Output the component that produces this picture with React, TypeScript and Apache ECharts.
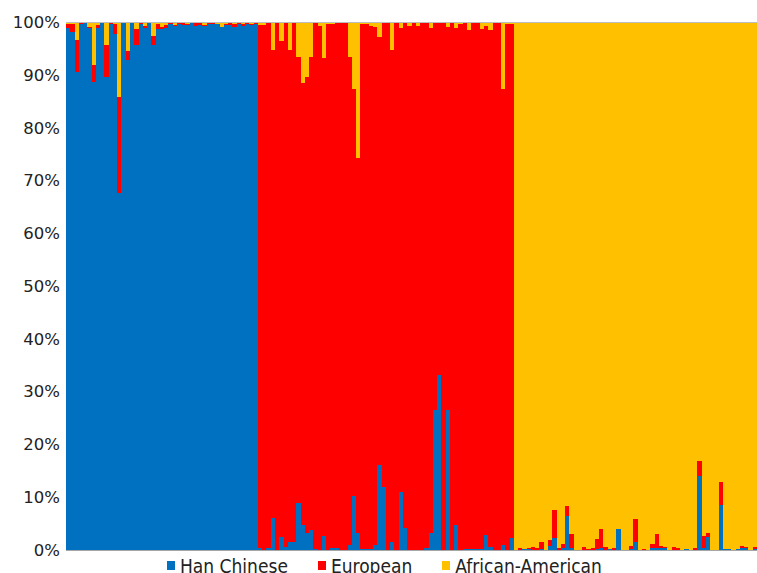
import React, { useEffect, useRef } from "react";
import * as echarts from "echarts";

// Ancestry proportions (%) per individual, grouped by sampled population.
// Han Chinese individuals (45)
const hanGroupHan = [98.9, 98.2, 90.7, 99.8, 99.9, 99.0, 88.7, 99.0, 100, 89.6, 99.7, 97.9, 67.6, 99.9, 92.8, 100, 95.8, 99.8, 99.0, 100, 95.8, 98.7, 98.7, 99.0, 99.7, 99.4, 99.8, 99.5, 99.6, 99.9, 99.4, 99.6, 99.3, 99.8, 99.7, 99.7, 99.1, 99.5, 99.6, 99.1, 99.7, 99.4, 99.8, 99.6, 99.7];
const hanGroupEuropean = [0.8, 1.5, 5.9, 0.2, 0, 0.2, 3.3, 0.6, 0, 6.2, 0.3, 1.8, 18.2, 0.1, 1.8, 0, 2.9, 0.2, 0.4, 0, 1.7, 1.0, 0.5, 0.5, 0.2, 0.1, 0.2, 0.4, 0.1, 0.1, 0.5, 0.3, 0.3, 0.1, 0.3, 0.1, 0.1, 0.3, 0.3, 0.6, 0.2, 0.3, 0.1, 0.1, 0.2];
const hanGroupAfrican = [0.3, 0.3, 3.4, 0, 0.1, 0.8, 8.0, 0.4, 0, 4.2, 0, 0.3, 14.2, 0, 5.4, 0, 1.3, 0, 0.6, 0, 2.5, 0.3, 0.8, 0.5, 0.1, 0.5, 0, 0.1, 0.3, 0, 0.1, 0.1, 0.4, 0.1, 0, 0.2, 0.8, 0.2, 0.1, 0.3, 0.1, 0.3, 0.1, 0.3, 0.1];

// European individuals (60)
const eurGroupHan = [0.3, 0, 0.3, 6.0, 0, 2.4, 0.5, 1.6, 1.6, 9.0, 4.7, 3.2, 3.7, 0.2, 0, 2.7, 0, 0.4, 0.4, 0, 0, 0.9, 10.3, 3.3, 0.2, 0.2, 0.2, 0.9, 16.1, 12.0, 0, 1.6, 0, 11.0, 4.1, 0, 0, 0, 0, 0.3, 3.2, 26.6, 33.1, 0, 26.6, 0, 4.7, 0, 0.2, 0.2, 0.2, 0.2, 0.2, 2.9, 0.5, 0, 0, 1.0, 0, 2.3];
const eurGroupEuropean = [99.2, 99.5, 99.7, 88.7, 100, 94.0, 99.5, 93.1, 98.4, 84.4, 83.9, 86.4, 89.7, 99.8, 99.4, 90.5, 99.7, 99.3, 99.6, 100, 100, 92.5, 77.1, 71.0, 99.6, 99.5, 99.2, 98.3, 81.1, 88.0, 100, 93.1, 100, 88.0, 95.9, 99.4, 100, 99.4, 100, 99.7, 95.8, 73.4, 66.9, 100, 72.6, 100, 94.3, 99.7, 99.8, 98.3, 99.8, 99.8, 98.5, 96.5, 98.0, 100, 100, 86.4, 99.8, 97.4];
const eurGroupAfrican = [0.5, 0.5, 0, 5.3, 0, 3.6, 0, 5.3, 0, 6.6, 11.4, 10.4, 6.6, 0, 0.6, 6.8, 0.3, 0.3, 0, 0, 0, 6.6, 12.6, 25.7, 0.2, 0.3, 0.6, 0.8, 2.8, 0, 0, 5.3, 0, 1.0, 0, 0.6, 0, 0.6, 0, 0, 1.0, 0, 0, 0, 0.8, 0, 1.0, 0.3, 0, 1.5, 0, 0, 1.3, 0.6, 1.5, 0, 0, 12.6, 0.2, 0.3];

// African-American individuals (57)
const afrGroupHan = [0, 0, 0.1, 0.1, 0, 0, 0.1, 0, 0.8, 2.3, 0, 0.3, 6.4, 0.4, 0, 0, 0, 0, 0, 0.2, 0.3, 0, 0.2, 0, 3.9, 0, 0, 0.2, 1.5, 0, 0, 0, 0.3, 0.4, 0.3, 0.3, 0, 0, 0, 0, 0.2, 0, 0, 14.1, 0.3, 2.4, 0, 0, 8.5, 0.2, 0.1, 0, 0.1, 0.3, 0.4, 0, 0.1];
const afrGroupEuropean = [0, 0.3, 0.1, 0.2, 0.5, 0.4, 1.4, 0, 1.1, 5.3, 0.3, 0.8, 1.9, 2.6, 0, 0, 0.5, 0.2, 0.4, 1.8, 3.7, 0.5, 0, 0.4, 0.1, 0, 0, 0.6, 4.4, 0, 0.2, 0, 0.8, 2.6, 0.5, 0.3, 0, 0.5, 0.4, 0, 0, 0, 0.3, 2.7, 2.4, 0.8, 0, 0, 4.4, 0, 0, 0, 0, 0.5, 0.1, 0, 0.4];
const afrGroupAfrican = [100, 99.7, 99.8, 99.7, 99.5, 99.6, 98.5, 100, 98.1, 92.4, 99.7, 98.9, 91.7, 97.0, 100, 100, 99.5, 99.8, 99.6, 98.0, 96.0, 99.5, 99.8, 99.6, 96.0, 100, 100, 99.2, 94.1, 100, 99.8, 100, 98.9, 97.0, 99.2, 99.4, 100, 99.5, 99.6, 100, 99.8, 100, 99.7, 83.2, 97.3, 96.8, 100, 100, 87.1, 99.8, 99.9, 100, 99.9, 99.2, 99.5, 100, 99.5];

const seriesNames = ["Han Chinese", "European", "African-American"];
const seriesColors = ["#0070C0", "#FF0000", "#FFC000"];

export default function App() {
  const ref = useRef<HTMLDivElement>(null);
  useEffect(() => {
    document.body.style.margin = "0";
    if (!ref.current) return;
    const chart = echarts.init(ref.current, null, { renderer: "svg" });
    const han = [...hanGroupHan, ...eurGroupHan, ...afrGroupHan];
    const eur = [...hanGroupEuropean, ...eurGroupEuropean, ...afrGroupEuropean];
    const afr = [...hanGroupAfrican, ...eurGroupAfrican, ...afrGroupAfrican];
    const cats = han.map((_, i) => String(i + 1));
    const mk = (name: string, data: number[], color: string) => ({
      name,
      type: "bar",
      stack: "total",
      data,
      barCategoryGap: "0%",
      barGap: "0%",
      itemStyle: { color },
      emphasis: { disabled: true },
    });
    chart.setOption({
      animation: false,
      grid: { left: 66, right: 0, top: 22.5, bottom: 23 },
      legend: {
        data: seriesNames.map((n) => ({ name: n, icon: "rect" })),
        left: 162,
        top: 551,
        itemWidth: 8,
        itemHeight: 9,
        itemGap: 30,
        textStyle: { fontFamily: "DejaVu Sans Condensed", fontSize: 19, color: "#222" },
      },
      xAxis: [
        {
          type: "category",
          data: cats,
          axisTick: { show: false },
          axisLabel: { show: false },
          axisLine: { lineStyle: { color: "#a6a6a6", width: 1 } },
        },
        {
          type: "category",
          position: "top",
          data: cats,
          axisTick: { show: false },
          axisLabel: { show: false },
          axisLine: { show: true, lineStyle: { color: "#bdbdbd", width: 1 } },
          z: 10,
        },
      ],
      yAxis: {
        type: "value",
        min: 0,
        max: 100,
        interval: 10,
        axisLine: { show: true, lineStyle: { color: "#a6a6a6", width: 1 } },
        axisTick: { show: false },
        splitLine: { show: false },
        axisLabel: {
          formatter: "{value}%",
          fontFamily: "DejaVu Sans",
          fontSize: 16.5,
          color: "#222",
          margin: 6,
        },
      },
      series: [
        mk(seriesNames[0], han, seriesColors[0]),
        mk(seriesNames[1], eur, seriesColors[1]),
        mk(seriesNames[2], afr, seriesColors[2]),
      ],
    });
    return () => chart.dispose();
  }, []);
  return (
    <>
      <style>{"#root svg path { shape-rendering: crispEdges; }"}</style>
      <div ref={ref} style={{ width: 757, height: 573 }} />
    </>
  );
}
